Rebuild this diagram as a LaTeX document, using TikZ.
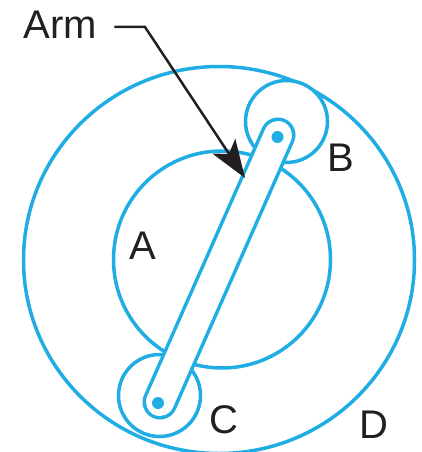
\documentclass[tikz,border=0pt]{standalone}
\usepackage{fontspec}
\setmainfont{Liberation Sans}
\usetikzlibrary{arrows.meta}
\definecolor{gearblue}{HTML}{1FADE4}
\definecolor{labelgray}{HTML}{231F20}
\tikzset{
	gear/.style={draw=gearblue, line width=3.5pt, fill=white},
	letter/.style={text=labelgray, font=\fontsize{40}{40}\selectfont, inner sep=0pt},
}
\begin{document}
\begin{tikzpicture}[x=1pt,y=-1pt]
	\useasboundingbox (0,0) rectangle (421,452);

	% annulus and sun
	\draw[gear] (219,260) ellipse [x radius=195.5, y radius=193.5];
	\draw[gear] (222,259.5) circle [radius=108.5];

	% planets
	\draw[gear] (286.5,121.5) circle [radius=41];
	\draw[gear] (159.5,395.5) circle [radius=41];

	% arm
	\coordinate (topend) at (278,135);
	\coordinate (lowend) at (160,402);
	\draw[gearblue, line width=35pt, line cap=round] (topend) -- (lowend);
	\draw[white, line width=28pt, line cap=round] (topend) -- (lowend);

	% pivots
	\fill[gearblue] (277.5,137) circle [radius=6];
	\fill[gearblue] (158,403) circle [radius=6];

	% labels
	\node[letter] (armlabel) at (60.5,25) {Arm};
	\node[letter] (sunlabel) at (143,246) {A};
	\node[letter] (toplabel) at (341,158) {B};
	\node[letter] (lowlabel) at (224,420) {C};
	\node[letter] (ringlabel) at (374,425) {D};

	% pointer
	\coordinate (bend) at (145,27);
	\coordinate (tip) at (245,178);
	\draw[labelgray, line width=2.5pt, -{Stealth[length=38pt,width=27pt,inset=9pt]}] (armlabel.east) ++(17,2) -- (bend) -- (tip);
\end{tikzpicture}
\end{document}
